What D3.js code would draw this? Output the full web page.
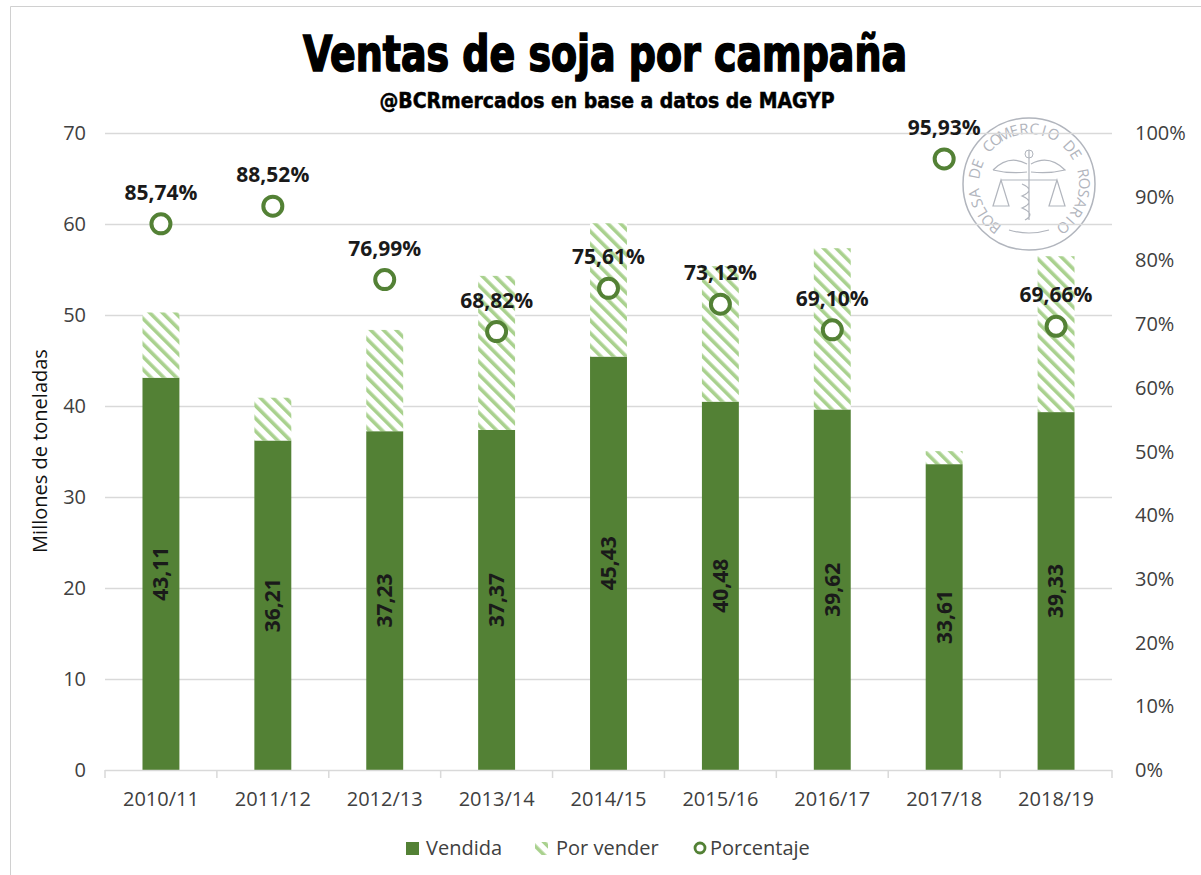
<!DOCTYPE html>
<html>
  <head>
    <meta charset="utf-8" />
    <title>Ventas de soja por campaña</title>
    <script src="https://cdn.jsdelivr.net/npm/d3@7"></script>
    <style type="text/css">
      body { margin: 0; background: #fff; }
      svg text { font-family: "Open Sans", "Liberation Sans", sans-serif; }
    </style>
  </head>
  <body>
    <svg id="chart" width="1201" height="875"></svg>
    <script type="text/javascript">
      // datos (millones de toneladas)
      var campanias = ['2010/11', '2011/12', '2012/13', '2013/14', '2014/15', '2015/16', '2016/17', '2017/18', '2018/19'];
      var vendida = [43.11, 36.21, 37.23, 37.37, 45.43, 40.48, 39.62, 33.61, 39.33];
      var porVender = [7.17, 4.70, 11.13, 16.93, 14.65, 14.88, 17.72, 1.43, 17.13];
      var porcentaje = [85.74, 88.52, 76.99, 68.82, 75.61, 73.12, 69.10, 95.93, 69.66];
      var ticksIzq = [0, 10, 20, 30, 40, 50, 60, 70];
      var ticksDer = [0, 10, 20, 30, 40, 50, 60, 70, 80, 90, 100];

      var verde = '#538135', verdeClaro = '#a9d18e', grisLinea = '#d9d9d9', texto = '#404040';
      var fmt = d3.format('.2f');
      var coma = function (v) { return fmt(v).replace('.', ','); };

      var svg = d3.select('#chart');

      // marco
      svg.append('path').attr('d', 'M10.5,875 V6.5 H1201').attr('fill', 'none').attr('stroke', '#d0d0d0');

      var x = d3.scaleBand().domain(campanias).range([105, 1112]).paddingInner(0.67).paddingOuter(0.335);
      var y = d3.scaleLinear().domain([0, 70]).range([770, 133]);
      var yP = d3.scaleLinear().domain([0, 100]).range([770, 133]);

      // patrón rayado
      var pat = svg.append('defs').append('pattern')
        .attr('id', 'rayas').attr('patternUnits', 'userSpaceOnUse')
        .attr('width', 9).attr('height', 9).attr('patternTransform', 'rotate(-45)');
      pat.append('rect').attr('width', 9).attr('height', 9).attr('fill', '#fff');
      pat.append('rect').attr('x', 0).attr('width', 3.6).attr('height', 9).attr('fill', verdeClaro);

      // sello (marca de agua)
      var gris = '#9ea3ad';
      var sello = svg.append('g').attr('transform', 'translate(1029,184)').attr('opacity', 0.8);
      sello.append('circle').attr('r', 66).attr('fill', '#fff').attr('stroke', gris).attr('stroke-width', 1.5);
      // letras una por una alrededor del borde
      var letras = 'BOLSA DE COMERCIO DE ROSARIO'.split('');
      var ang = d3.scaleLinear().domain([0, letras.length - 1]).range([-142, 142]);
      sello.selectAll('text.letra').data(letras).join('text').attr('class', 'letra')
        .attr('transform', (d, i) => 'rotate(' + ang(i) + ') translate(0,-50)')
        .attr('text-anchor', 'middle').attr('fill', gris).style('font-size', '15px')
        .text((d) => d);
      sello.append('path').attr('d', 'M-36,-14 Q-20,-30 -2,-20 M2,-20 Q20,-30 36,-14 Q20,-10 2,-12 M-2,-12 Q-20,-10 -36,-14')
        .attr('fill', 'none').attr('stroke', gris).attr('stroke-width', 1.2);
      sello.append('path').attr('d', 'M0,-34 V36 M-28,-4 H28 M-28,-4 L-36,22 H-20 Z M28,-4 L20,22 H36 Z M-7,0 Q7,6 -7,12 Q7,18 -7,24 Q7,30 -4,36')
        .attr('fill', 'none').attr('stroke', gris).attr('stroke-width', 1.2);
      sello.append('circle').attr('cy', -30).attr('r', 4).attr('fill', 'none').attr('stroke', gris);
      sello.append('path').attr('d', 'M-20,46 Q0,52 20,46').attr('fill', 'none').attr('stroke', gris).attr('stroke-width', 1.2);

      // grilla
      svg.append('g').selectAll('line').data(ticksIzq.slice(1)).join('line')
        .attr('x1', 105).attr('x2', 1112)
        .attr('y1', (d) => y(d) + 0.5).attr('y2', (d) => y(d) + 0.5)
        .attr('stroke', grisLinea).attr('stroke-width', 1.3);

      // eje izquierdo
      svg.append('g').selectAll('text').data(ticksIzq).join('text')
        .attr('x', 86).attr('y', (d) => y(d)).attr('dy', '0.35em')
        .attr('text-anchor', 'end').attr('fill', texto).style('font-size', '20px')
        .text((d) => d);

      // eje derecho
      svg.append('g').selectAll('text').data(ticksDer).join('text')
        .attr('x', 1135).attr('y', (d) => yP(d)).attr('dy', '0.35em')
        .attr('fill', texto).style('font-size', '20px')
        .text((d) => d + '%');

      // barras
      var g = svg.append('g');
      g.selectAll('rect.vendida').data(campanias).join('rect').attr('class', 'vendida')
        .attr('x', (d) => x(d)).attr('width', x.bandwidth())
        .attr('y', (d, i) => y(vendida[i])).attr('height', (d, i) => y(0) - y(vendida[i]))
        .attr('fill', verde);
      g.selectAll('rect.porvender').data(campanias).join('rect').attr('class', 'porvender')
        .attr('x', (d) => x(d)).attr('width', x.bandwidth())
        .attr('y', (d, i) => y(vendida[i] + porVender[i])).attr('height', (d, i) => y(vendida[i]) - y(vendida[i] + porVender[i]))
        .attr('fill', 'url(#rayas)');

      // eje x
      var ejeX = svg.append('g').attr('transform', 'translate(0,770)')
        .call(d3.axisBottom(x).tickSize(0).tickPadding(22));
      ejeX.select('.domain').remove();
      ejeX.selectAll('text').attr('fill', texto).style('font-size', '20px').style('font-family', '"Open Sans", sans-serif');
      ejeX.append('line').attr('x1', 105).attr('x2', 1112).attr('y1', 0.5).attr('y2', 0.5).attr('stroke', grisLinea).attr('stroke-width', 1.5);
      var bordes = campanias.map((d) => x(d) - x.step() * x.paddingInner() / 2).concat([1112]);
      ejeX.selectAll('line.tk').data(bordes).join('line').attr('class', 'tk')
        .attr('x1', (d) => d).attr('x2', (d) => d).attr('y1', 0).attr('y2', 8)
        .attr('stroke', grisLinea).attr('stroke-width', 1.5);

      // etiquetas dentro de barras
      g.selectAll('text.vlab').data(campanias).join('text').attr('class', 'vlab')
        .attr('transform', (d, i) => 'translate(' + (x(d) + x.bandwidth() / 2) + ',' + y(vendida[i] / 2) + ') rotate(-90)')
        .attr('text-anchor', 'middle').attr('dy', '0.35em')
        .attr('fill', '#1a1a1a').style('font-size', '21px').style('font-weight', 'bold')
        .text((d, i) => coma(vendida[i]));

      // porcentajes
      g.selectAll('circle.pct').data(campanias).join('circle').attr('class', 'pct')
        .attr('cx', (d) => x(d) + x.bandwidth() / 2).attr('cy', (d, i) => yP(porcentaje[i]))
        .attr('r', 9.5).attr('fill', '#fff').attr('stroke', verde).attr('stroke-width', 4);
      g.selectAll('text.plab').data(campanias).join('text').attr('class', 'plab')
        .attr('x', (d) => x(d) + x.bandwidth() / 2).attr('y', (d, i) => yP(porcentaje[i]) - 24)
        .attr('text-anchor', 'middle')
        .attr('fill', '#1a1a1a').style('font-size', '21px').style('font-weight', 'bold')
        .text((d, i) => coma(porcentaje[i]) + '%');

      // título eje y
      svg.append('text').attr('transform', 'translate(47,451) rotate(-90)')
        .attr('text-anchor', 'middle').attr('fill', '#111').style('font-size', '20px')
        .text('Millones de toneladas');

      // títulos
      svg.append('text').attr('x', 605).attr('y', 71).attr('text-anchor', 'middle')
        .attr('textLength', 604).attr('lengthAdjust', 'spacingAndGlyphs')
        .style('font-family', '"DejaVu Sans Condensed", "DejaVu Sans", sans-serif')
        .style('font-size', '50px').style('font-weight', 'bold').attr('fill', '#000')
        .attr('stroke', '#000').attr('stroke-width', 1.6)
        .text('Ventas de soja por campaña');
      svg.append('text').attr('x', 607).attr('y', 108).attr('text-anchor', 'middle')
        .attr('textLength', 455).attr('lengthAdjust', 'spacingAndGlyphs')
        .style('font-family', '"DejaVu Sans Condensed", "DejaVu Sans", sans-serif')
        .style('font-size', '21px').style('font-weight', 'bold').attr('fill', '#000')
        .attr('stroke', '#000').attr('stroke-width', 0.5)
        .text('@BCRmercados  en base a datos de MAGYP');

      // leyenda
      var ley = svg.append('g').attr('transform', 'translate(0,848)');
      ley.append('rect').attr('x', 406).attr('y', -6).attr('width', 13).attr('height', 13).attr('fill', verde);
      ley.append('text').attr('x', 426).attr('dy', '0.35em').attr('fill', texto).style('font-size', '20px').text('Vendida');
      ley.append('rect').attr('x', 535).attr('y', -6).attr('width', 13).attr('height', 13).attr('fill', 'url(#rayas)');
      ley.append('text').attr('x', 556).attr('dy', '0.35em').attr('fill', texto).style('font-size', '20px').text('Por vender');
      ley.append('circle').attr('cx', 700).attr('cy', 0).attr('r', 5).attr('fill', '#fff').attr('stroke', verde).attr('stroke-width', 2.8);
      ley.append('text').attr('x', 710).attr('dy', '0.35em').attr('fill', texto).style('font-size', '20px').text('Porcentaje');
    </script>
  </body>
</html>
